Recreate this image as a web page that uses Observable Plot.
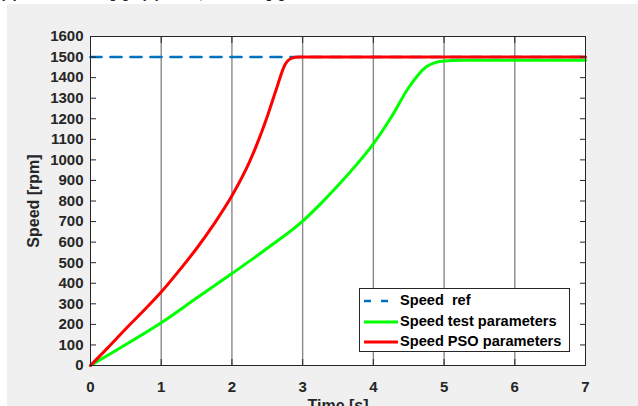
<!DOCTYPE html>
<html><head><meta charset="utf-8">
<script src="https://cdn.jsdelivr.net/npm/d3@7"></script>
<script src="https://cdn.jsdelivr.net/npm/@observablehq/plot@0.6"></script>
<style>
html,body{margin:0;padding:0;background:#fff;width:638px;height:406px;overflow:hidden;font-family:"Liberation Sans",Arial,sans-serif;}
#bg{position:absolute;left:7px;top:4px;width:631px;height:402px;background:#f0f0f0;}
#chart{position:absolute;left:0;top:0;}
#cap{position:absolute;left:0;top:0;width:638px;height:4px;overflow:hidden;}
#cap span{position:absolute;top:-15px;font:bold 15px/15px "Liberation Sans",Arial,sans-serif;color:#262626;white-space:pre;}
#legend{position:absolute;left:359px;top:288px;width:209px;height:62px;background:#fff;border:1px solid #262626;}
.row{position:absolute;left:0;height:20px;font:bold 14.6px "Liberation Sans",Arial,sans-serif;color:#000;white-space:pre;}
.row svg{position:absolute;left:3px;top:0;}
.row span{position:absolute;left:40px;top:1px;}
</style></head>
<body>
<div id="bg"></div>
<div id="cap"><span style="left:0px">(a) Time</span><span style="left:110px">[s]</span><span style="left:141px">(b) Time,</span><span style="left:266px">[s]</span></div>
<div id="chart"></div>
<div id="legend"></div>
<script>
// data
const timeRef = [0, 7];
const speedRef = [1500, 1500];
const timeTest = [0, 0.5, 1, 1.5, 2, 2.5, 3, 3.25, 3.5, 3.75, 4, 4.25, 4.5, 4.75, 4.875, 5, 5.25, 6, 7];
const speedTest = [0, 102, 208, 328, 447, 570, 702, 785, 875, 972, 1078, 1206, 1352, 1453, 1473, 1481, 1484, 1484, 1484];
const timePSO = [0, 0.25, 0.5, 0.75, 1, 1.25, 1.5, 1.75, 2, 2.25, 2.5, 2.625, 2.75, 2.85, 2.95, 3, 4, 5, 6, 7];
const speedPSO = [0, 88, 179, 266, 357, 460, 569, 690, 825, 991, 1211, 1341, 1463, 1495, 1500, 1500, 1500, 1500, 1500, 1500];
const xTicks = [0, 1, 2, 3, 4, 5, 6, 7];
const yTicks = d3.range(0, 1601, 100);
const gridX = [1, 2, 3, 4, 5, 6];
const seriesNames = ["Speed  ref", "Speed test parameters", "Speed PSO parameters"];
const seriesColors = ["#0072BD", "#00FF00", "#FF0000"];

const ref = timeRef.map((t, i) => ({t, v: speedRef[i]}));
const test = timeTest.map((t, i) => ({t, v: speedTest[i]}));
const pso = timePSO.map((t, i) => ({t, v: speedPSO[i]}));

const axisFont = {fontSize: 15, fontWeight: "bold", fill: "#262626"};

const chart = Plot.plot({
  width: 638, height: 406,
  marginLeft: 90, marginRight: 53, marginTop: 36, marginBottom: 41,
  style: {background: "transparent", fontFamily: "'Liberation Sans', Arial, sans-serif", color: "#262626", overflow: "visible"},
  x: {domain: [0, 7]},
  y: {domain: [0, 1600]},
  marks: [
    Plot.frame({fill: "white", stroke: "none"}),
    Plot.ruleX(gridX, {stroke: "#8a8a8a", strokeWidth: 1.4}),
    Plot.lineY(ref, {x: "t", y: "v", stroke: seriesColors[0], strokeWidth: 2.6, strokeDasharray: "11,9"}),
    Plot.lineY(test, {x: "t", y: "v", stroke: seriesColors[1], strokeWidth: 3, curve: "monotone-x"}),
    Plot.lineY(pso, {x: "t", y: "v", stroke: seriesColors[2], strokeWidth: 3, curve: "monotone-x"}),
    // inward ticks
    Plot.axisY({anchor: "left", ticks: yTicks, tickSize: 6, dx: 6, text: null, label: null, stroke: "#262626"}),
    Plot.axisY({anchor: "right", ticks: yTicks, tickSize: 6, dx: -6, text: null, label: null, stroke: "#262626"}),
    Plot.axisX({anchor: "bottom", ticks: xTicks, tickSize: 6, dy: -6, text: null, label: null, stroke: "#262626"}),
    Plot.axisX({anchor: "top", ticks: xTicks, tickSize: 6, dy: 6, text: null, label: null, stroke: "#262626"}),
    // labels
    Plot.axisY({anchor: "left", ticks: yTicks, tickFormat: "d", tickSize: 0, tickPadding: 7, ...axisFont,
      label: "Speed [rpm]", labelAnchor: "center", labelOffset: 63, labelArrow: "none"}),
    Plot.axisX({anchor: "bottom", ticks: xTicks, tickFormat: "d", tickSize: 0, tickPadding: 16, ...axisFont,
      label: "Time [s]", labelAnchor: "center", labelOffset: 45, labelArrow: "none"}),
    Plot.frame({stroke: "#262626", strokeWidth: 1})
  ]
});
// style axis labels
chart.querySelectorAll("[aria-label$='axis label'] text").forEach(t => {
  t.setAttribute("font-size", "16"); t.setAttribute("font-weight", "bold"); t.setAttribute("fill", "#262626");
});
document.getElementById("chart").append(chart);

// legend
const leg = document.getElementById("legend");
seriesNames.forEach((name, i) => {
  const row = document.createElement("div");
  row.className = "row";
  row.style.top = (2 + i * 20.5) + "px";
  const dash = i === 0 ? 'stroke-dasharray="7,10"' : "";
  row.innerHTML = `<svg width="36" height="20"><line x1="1" y1="10" x2="35" y2="10" stroke="${seriesColors[i]}" stroke-width="${i===0?2.6:3}" ${dash}/></svg><span>${name}</span>`;
  leg.append(row);
});
</script>
</body></html>
